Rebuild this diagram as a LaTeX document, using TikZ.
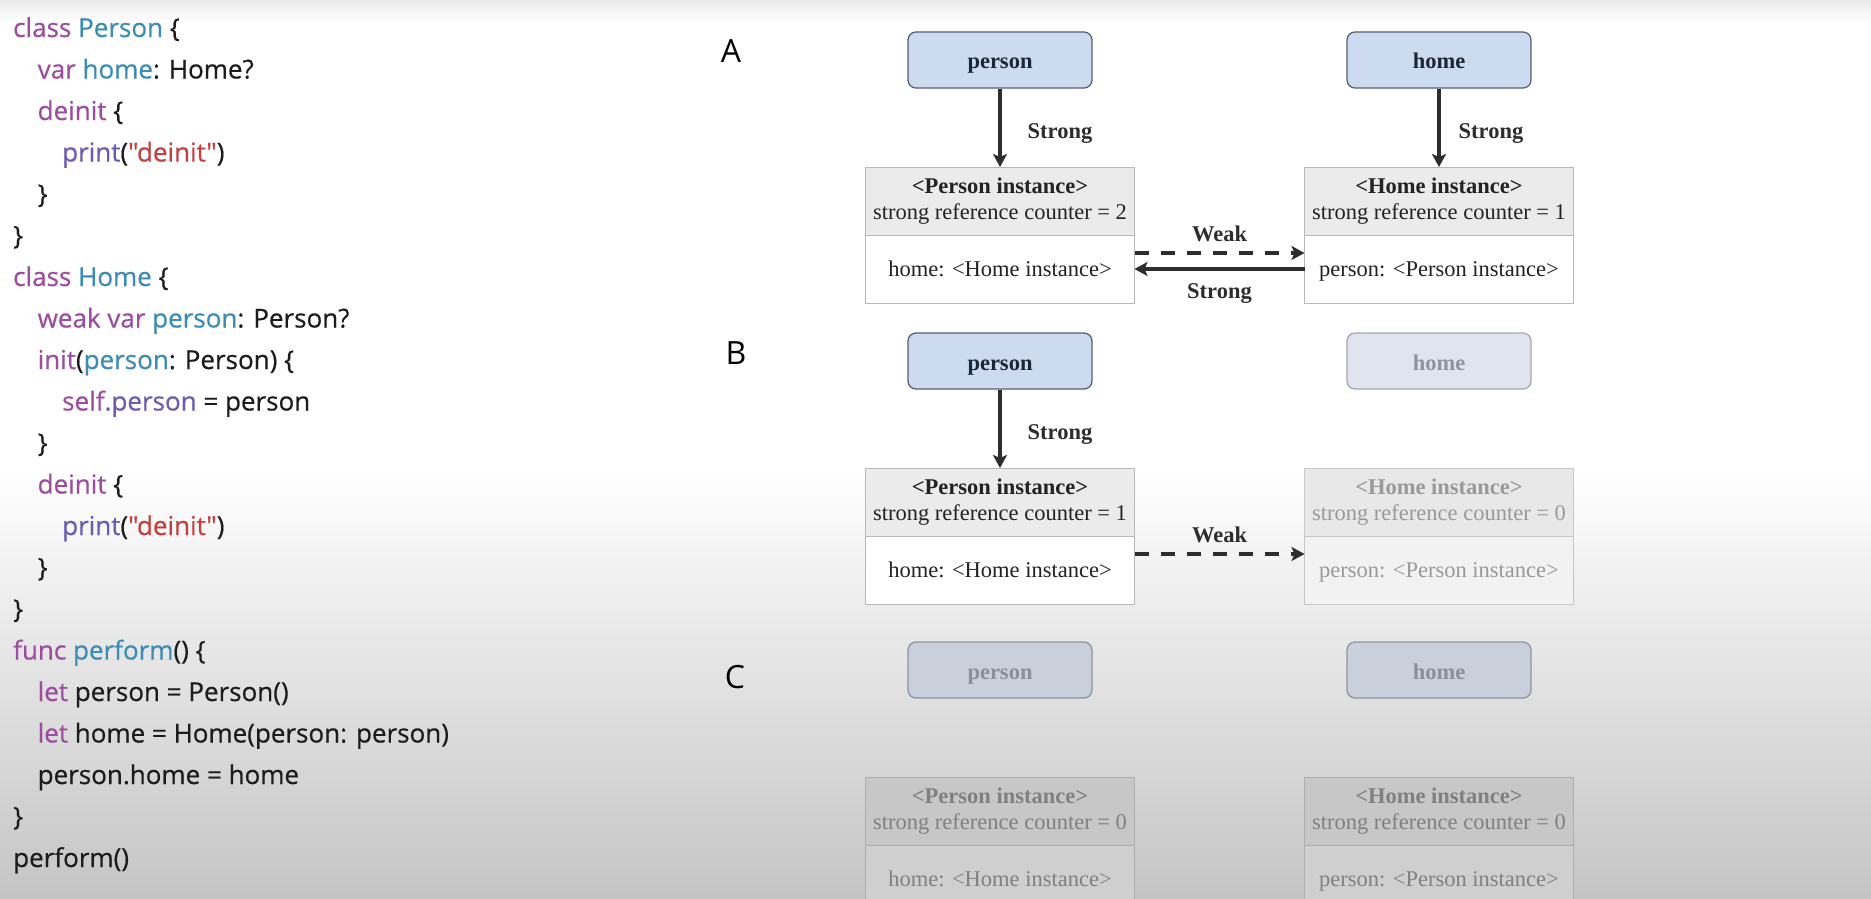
\documentclass[tikz,border=0pt]{standalone}
\usepackage{fontspec}
\usetikzlibrary{arrows.meta,positioning}
\newfontfamily\codefont{Open Sans}[FakeBold=0.5]
\newfontfamily\markfont{Open Sans}
\newfontfamily\diagfont{Liberation Serif}

\definecolor{kwcol}{HTML}{9C4D9F}
\definecolor{idcol}{HTML}{3C8DB5}
\definecolor{fncol}{HTML}{6A5CB0}
\definecolor{strcol}{HTML}{C4403F}
\definecolor{txtcol}{HTML}{1C1C1C}
\definecolor{arrowcol}{HTML}{2D2D2D}
\definecolor{varfill}{HTML}{CDDBF0}
\definecolor{varedge}{HTML}{566070}
\definecolor{vartext}{HTML}{1D2636}
\definecolor{dimfill}{HTML}{DFE4EE}
\definecolor{dimedge}{HTML}{A3A8B0}
\definecolor{dimtext}{HTML}{8F949C}
\definecolor{gonefill}{HTML}{C9D0DC}
\definecolor{goneedge}{HTML}{8F959E}
\definecolor{gonetext}{HTML}{8A8F98}
\definecolor{instedge}{HTML}{B8B8B8}
\definecolor{headfill}{HTML}{EBEBEB}
\definecolor{insttext}{HTML}{222222}

\newcommand\kw[1]{\textcolor{kwcol}{#1}}
\newcommand\idf[1]{\textcolor{idcol}{#1}}
\newcommand\fn[1]{\textcolor{fncol}{#1}}
\newcommand\strlit[1]{\textcolor{strcol}{#1}}

\tikzset{
  codeline/.style={anchor=base west,inner sep=0pt,text=txtcol,
    font=\codefont\fontsize{26}{30}\selectfont},
  rowmark/.style={inner sep=0pt,text=black,font=\markfont\fontsize{32}{36}\selectfont},
  varbox/.style={draw=varedge,fill=varfill,text=vartext,rounded corners=8pt,
    line width=1.3pt,minimum width=184pt,minimum height=56pt,inner sep=0pt,
    text height=22pt,text depth=4pt,
    font=\diagfont\bfseries\fontsize{22.5}{26}\selectfont},
  vardim/.style={varbox,draw=dimedge,fill=dimfill,text=dimtext},
  vargone/.style={varbox,draw=goneedge,fill=gonefill,text=gonetext},
  insthead/.style={draw=instedge,fill=headfill,text=insttext,line width=1pt,
    minimum width=269pt,minimum height=68pt,inner sep=0pt,outer sep=0pt,align=center,
    font=\diagfont\fontsize{22.5}{26}\selectfont},
  instbody/.style={insthead,fill=white,text height=18pt,text depth=3pt},
  headdim/.style={insthead,draw=black!22,fill=black!9,text=black!40},
  bodydim/.style={instbody,draw=black!22,fill=black!5,text=black!40},
  headgone/.style={insthead,draw=black!32,fill=black!22,text=black!50},
  bodygone/.style={instbody,draw=black!32,fill=black!19,text=black!50},
  ref/.style={draw=arrowcol,line width=3.4pt,-{Stealth[length=13pt,width=14pt,inset=3pt]}},
  weakref/.style={ref,dash pattern=on 14pt off 12pt},
  reflabel/.style={inner sep=0pt,text=arrowcol,font=\diagfont\bfseries\fontsize{22.5}{26}\selectfont},
}

\begin{document}
\begin{tikzpicture}[x=1pt,y=-1pt]
  \useasboundingbox (0,0) rectangle (1871,899);
  \clip (0,0) rectangle (1871,899);
  % background of the video frame
  \fill[white] (0,0) rectangle (1871,899);
  \shade[top color=black!8,bottom color=white] (0,0) rectangle (1871,22);
  \shade[top color=white,bottom color=black!23] (0,470) rectangle (1871,899);

  % swift code
  \foreach \n/\lvl/\txt in {
    1/0/{\kw{class} \idf{Person} \{},
    2/1/{\kw{var} \idf{home}: Home?},
    3/1/{\kw{deinit} \{},
    4/2/{\fn{print}(\strlit{"deinit"})},
    5/1/{\}},
    6/0/{\}},
    7/0/{\kw{class} \idf{Home} \{},
    8/1/{\kw{weak var} \idf{person}: Person?},
    9/1/{\kw{init}(\idf{person}: Person) \{},
    10/2/{\kw{self}\fn{.person} = person},
    11/1/{\}},
    12/1/{\kw{deinit} \{},
    13/2/{\fn{print}(\strlit{"deinit"})},
    14/1/{\}},
    15/0/{\}},
    16/0/{\kw{func} \idf{perform}() \{},
    17/1/{\kw{let} person = Person()},
    18/1/{\kw{let} home = Home(person: person)},
    19/1/{person.home = home},
    20/0/{\}},
    21/0/{perform()}}
    \node[codeline] (code\n) at (13+24.5*\lvl,37+41.5*\n-41.5) {\txt};

  % A: both references alive
  \node[rowmark] (markA) at (731,51) {A};
  \node[varbox] (personA) at (1000,60) {person};
  \node[varbox] (homeA) at (1439,60) {home};
  \node[insthead] (pinstA) at (1000,201) {\textbf{<Person instance>}\\strong reference counter = 2};
  \node[instbody,below=0pt of pinstA] (pbodyA) {home: <Home instance>};
  \node[insthead] (hinstA) at (1439,201) {\textbf{<Home instance>}\\strong reference counter = 1};
  \node[instbody,below=0pt of hinstA] (hbodyA) {person: <Person instance>};
  \draw[ref] (personA) -- node[reflabel,right=26pt,yshift=-6pt] {Strong} (pinstA);
  \draw[ref] (homeA) -- node[reflabel,right=18pt,yshift=-6pt] {Strong} (hinstA);
  \draw[weakref] ([yshift=16pt]pbodyA.east) -- node[reflabel,above=9pt] {Weak} ([yshift=16pt]hbodyA.west);
  \draw[ref] (hbodyA) -- node[reflabel,below=13pt] {Strong} (pbodyA);

  % B: home released
  \node[rowmark] (markB) at (736,353) {B};
  \node[varbox] (personB) at (1000,361) {person};
  \node[vardim] (homeB) at (1439,361) {home};
  \node[insthead] (pinstB) at (1000,502) {\textbf{<Person instance>}\\strong reference counter = 1};
  \node[instbody,below=0pt of pinstB] (pbodyB) {home: <Home instance>};
  \node[headdim] (hinstB) at (1439,502) {\textbf{<Home instance>}\\strong reference counter = 0};
  \node[bodydim,below=0pt of hinstB] (hbodyB) {person: <Person instance>};
  \draw[ref] (personB) -- node[reflabel,right=26pt,yshift=-6pt] {Strong} (pinstB);
  \draw[weakref] ([yshift=16pt]pbodyB.east) -- node[reflabel,above=9pt] {Weak} ([yshift=16pt]hbodyB.west);

  % C: everything released
  \node[rowmark] (markC) at (735,677) {C};
  \node[vargone] (personC) at (1000,670) {person};
  \node[vargone] (homeC) at (1439,670) {home};
  \node[headgone] (pinstC) at (1000,811) {\textbf{<Person instance>}\\strong reference counter = 0};
  \node[bodygone,below=0pt of pinstC] (pbodyC) {home: <Home instance>};
  \node[headgone] (hinstC) at (1439,811) {\textbf{<Home instance>}\\strong reference counter = 0};
  \node[bodygone,below=0pt of hinstC] (hbodyC) {person: <Person instance>};
\end{tikzpicture}
\end{document}
